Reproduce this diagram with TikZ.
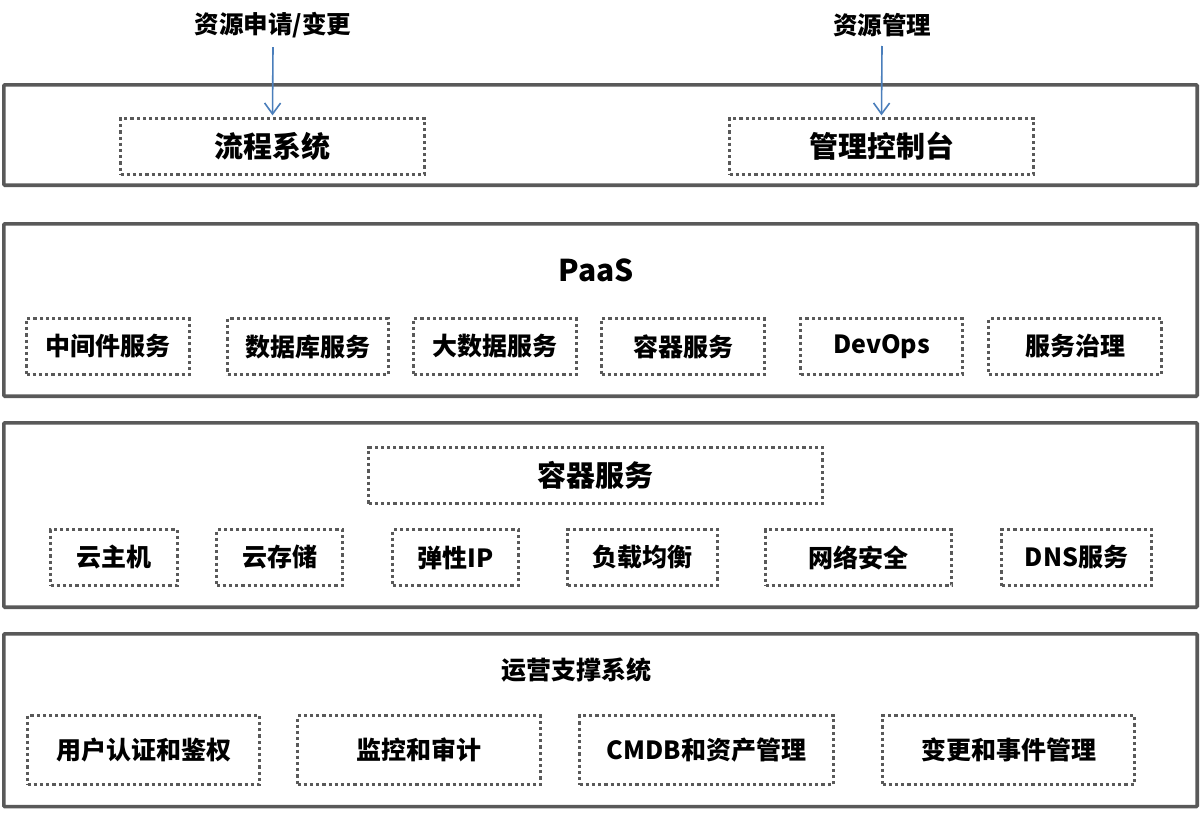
\documentclass[tikz,border=0pt]{standalone}
\usepackage{fontspec}
\setmainfont{Noto Sans CJK SC}
\usepackage{tikz}
\usetikzlibrary{arrows.meta,positioning}

\definecolor{boxgray}{HTML}{595959}
\definecolor{arrblue}{HTML}{4A7EBB}

\begin{document}
\begin{tikzpicture}[x=1pt, y=-1pt,
  layer/.style={draw=boxgray, line width=3.6pt, rounded corners=1pt},
  unit/.style={draw=boxgray, line width=3.3pt, dash pattern=on 3.2pt off 3pt,
    minimum height=56pt, inner sep=0pt, font=\fontsize{25}{30}\selectfont\bfseries},
  title/.style={inner sep=0pt, font=\fontsize{25}{30}\selectfont\bfseries},
  arr/.style={draw=arrblue, line width=1.6pt, -{Straight Barb[length=11pt,width=16pt]}}]
\useasboundingbox (0,0) rectangle (1202,812);
% top: portals
\draw[layer] (3.8,84.8) rectangle (1197.2,185.2);
\node[title, font=\fontsize{24.5}{30}\selectfont\bfseries] (req) at (273,25) {资源申请/变更};
\node[title, font=\fontsize{24.5}{30}\selectfont\bfseries] (res) at (882,25) {资源管理};
\node[unit, minimum width=304pt, font=\fontsize{29}{34}\selectfont\bfseries] (flow) at (272.5,146.5) {流程系统};
\node[unit, minimum width=304pt, font=\fontsize{29}{34}\selectfont\bfseries] (console) at (881.5,146.5) {管理控制台};
\draw[arr, shorten >=1.5pt] (req.south) ++(0,9) -- (flow.north);
\draw[arr, shorten >=1.5pt] (res.south) ++(0,9) -- (console.north);
% PaaS
\draw[layer] (3.8,223.8) rectangle (1197.2,396.2);
\node[title, font=\fontsize{30}{34}\selectfont\bfseries] (paas) at (596,270) {PaaS};
\foreach \x/\w/\t [count=\i] in {108/163/中间件服务, 308/161/数据库服务, 495/163/大数据服务,
    683/163/容器服务, 881.5/162/DevOps, 1075/173/服务治理}
  \node[unit, minimum width=\w pt] (paas\i) at (\x,346.5) {\t};
% IaaS
\draw[layer] (3.8,422.8) rectangle (1197.2,607.2);
\node[unit, minimum width=454pt, font=\fontsize{29}{34}\selectfont\bfseries] (ctr) at (595.5,475.5) {容器服务};
\foreach \x/\w/\t [count=\i] in {114/127/云主机, 279.5/126/云存储, 455.5/126/弹性IP,
    642.5/150/负载均衡, 858.5/186/网络安全, 1076.5/150/DNS服务}
  \node[unit, minimum width=\w pt] (iaas\i) at (\x,557.5) {\t};
% support
\draw[layer] (3.8,633.8) rectangle (1197.2,806.6);
\node[title] (ops) at (576,670) {运营支撑系统};
\foreach \x/\w/\t [count=\i] in {143.5/232/用户认证和鉴权, 419/243/监控和审计,
    706.5/254/CMDB和资产管理, 1008.5/252/变更和事件管理}
  \node[unit, minimum width=\w pt, minimum height=69pt] (ops\i) at (\x,750) {\t};
\end{tikzpicture}
\end{document}
